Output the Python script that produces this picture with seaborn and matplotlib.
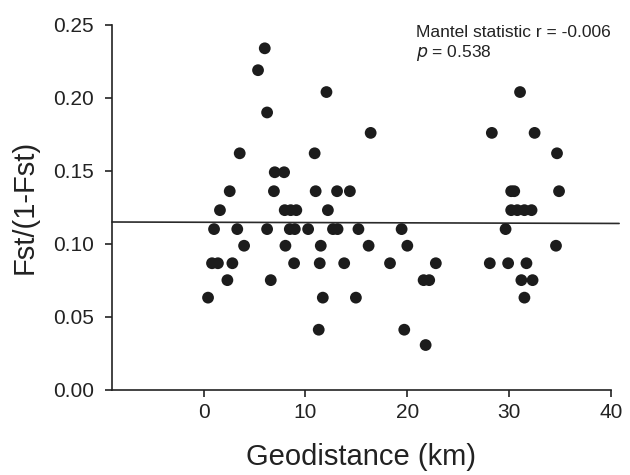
import numpy as np
import pandas as pd
import matplotlib
matplotlib.use("Agg")
import matplotlib.pyplot as plt
import seaborn as sns

# Pairwise genetic differentiation vs. geographic distance
geodistance_km = [
    6.0,
    5.34,
    12.06, 31.07,
    6.23,
    16.4, 28.3, 32.5,
    3.54, 10.9, 34.7,
    6.98, 7.9,
    2.56, 6.9, 11.0, 13.1, 14.36, 30.2, 30.5, 34.9,
    1.6, 7.96, 8.55, 9.1, 12.2, 30.2, 30.8, 31.5, 32.2,
    1.02, 3.3, 6.23, 8.46, 8.95, 10.26, 12.7, 13.15, 15.2, 19.44, 29.65,
    3.97, 8.03, 11.5, 16.2, 20.0, 34.6,
    0.82, 1.4, 2.82, 8.88, 11.4, 13.8, 18.3, 22.8, 28.1, 29.9, 31.7,
    2.33, 6.59, 21.6, 22.15, 31.2, 32.3,
    0.43, 11.7, 14.95, 31.5,
    11.3, 19.7,
    21.8,
]
fst_ratio = (
    [0.234]
    + [0.219]
    + [0.204] * 2
    + [0.190]
    + [0.176] * 3
    + [0.162] * 3
    + [0.149] * 2
    + [0.136] * 8
    + [0.123] * 9
    + [0.110] * 11
    + [0.0986] * 6
    + [0.0866] * 11
    + [0.075] * 6
    + [0.063] * 4
    + [0.041] * 2
    + [0.0305]
)

# Fitted Mantel trend line
trend_intercept = 0.1147
trend_slope = -0.00002

mantel_r = -0.006
mantel_p = 0.538

x_ticks = [0, 10, 20, 30, 40]
y_ticks = [0.00, 0.05, 0.10, 0.15, 0.20, 0.25]

df = pd.DataFrame({"Geodistance": geodistance_km, "Fst": fst_ratio})

sns.set_style("ticks")
plt.rcParams["font.family"] = ["Liberation Sans", "DejaVu Sans"]

ink = "#1c1c1c"
fig = plt.figure(figsize=(6.3, 4.75), dpi=100)
ax = fig.add_axes([0.1778, 0.18, 0.792, 0.7674])

sns.scatterplot(data=df, x="Geodistance", y="Fst", ax=ax, s=72,
                color=ink, edgecolor="none", linewidth=0, zorder=3)

x_lo, x_hi = -9.0, 40.0
line_x = np.array([x_lo, 40.8])
ax.plot(line_x, trend_intercept + trend_slope * line_x, color="#2a2a2a",
        lw=1.2, clip_on=False, zorder=2)

ax.set_xlim(x_lo, x_hi)
ax.set_ylim(0.0, 0.25)
ax.set_xticks(x_ticks)
ax.set_yticks(y_ticks)
ax.set_xticklabels([str(t) for t in x_ticks])
ax.set_yticklabels([f"{t:.2f}" for t in y_ticks])

for side in ("top", "right"):
    ax.spines[side].set_visible(False)
for side in ("left", "bottom"):
    ax.spines[side].set_color("#222222")
    ax.spines[side].set_linewidth(1.2)

ax.tick_params(axis="both", direction="out", length=5, width=1.2,
               colors="#222222", labelsize=15, labelcolor="#222222")
ax.tick_params(axis="y", pad=8)
ax.tick_params(axis="x", pad=5)

ax.set_xlabel("Geodistance (km)", fontsize=21, color="#222222", labelpad=15)
ax.set_ylabel("Fst/(1-Fst)", fontsize=21, color="#222222", labelpad=10)

ax.text(20.9, 0.2418, f"Mantel statistic r = {mantel_r:.3f}", fontsize=12.5,
        color="#222222", va="baseline", ha="left")
ax.text(20.9, 0.228, r"$\it{p}$" + f" = {mantel_p:.3f}", fontsize=12.5,
        color="#222222", va="baseline", ha="left")

fig.savefig("out.png", dpi=100, facecolor="white")
